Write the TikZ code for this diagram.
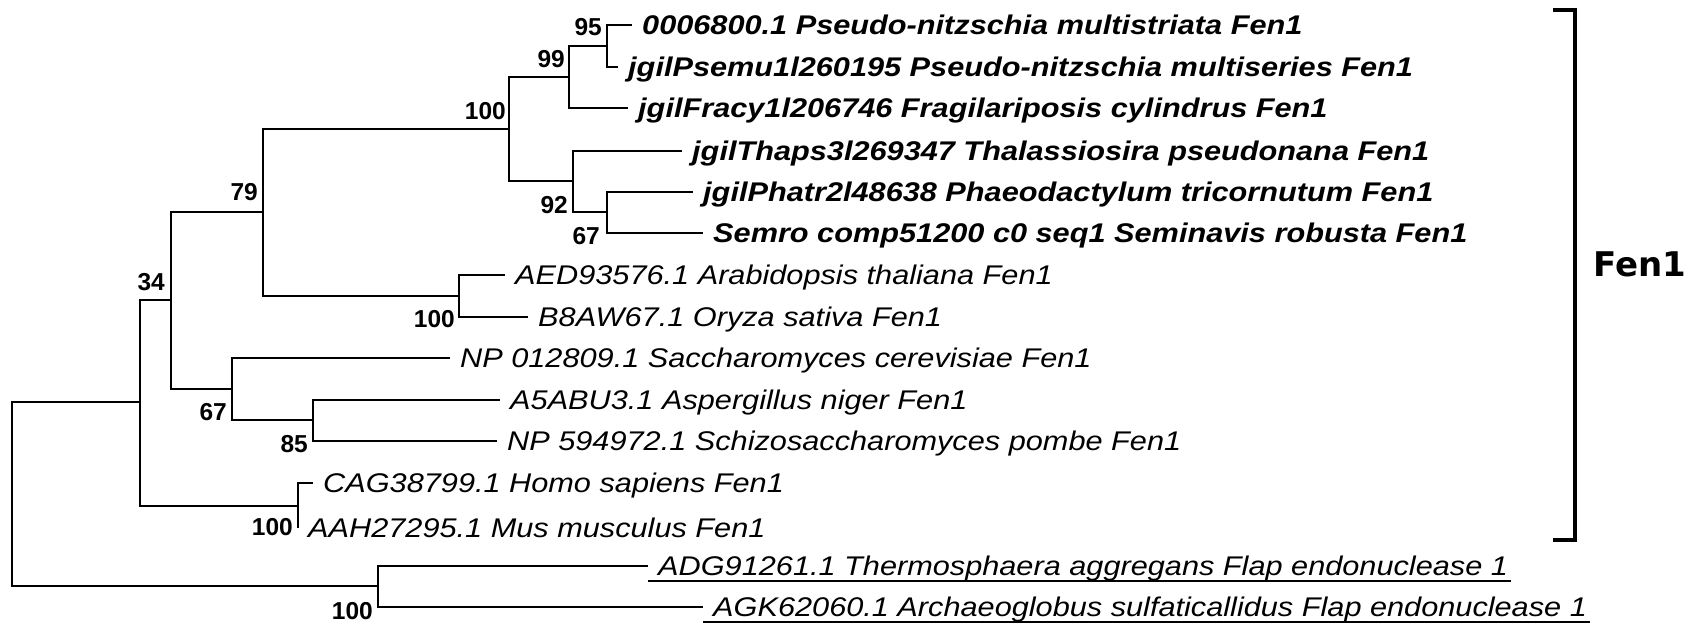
\documentclass[tikz,border=0pt]{standalone}
\usepackage{fontspec}
\setmainfont{Liberation Sans}
\newfontfamily\leaffont[FakeStretch=1.137]{Liberation Sans}
\newfontfamily\cladefont{DejaVu Sans}
\usepackage{tikz}
\usetikzlibrary{positioning}
\tikzstyle{leaf} = [anchor=west, inner xsep=10pt, inner ysep=0pt,
    text height=19.3pt, text depth=0pt, font=\leaffont\fontsize{27}{30}\selectfont\itshape]
\tikzstyle{branch} = [draw, line width=1.6pt]

\begin{document}
\begin{tikzpicture}[x=1pt, y=-1pt]
    % Style definitions
    \tikzstyle{dleaf} = [leaf, font=\leaffont\fontsize{27}{30}\selectfont\bfseries\itshape]
    \tikzstyle{boot} = [anchor=east, inner sep=0pt, text height=17.5pt, text depth=0pt,
        font=\fontsize{24.5}{26}\selectfont\bfseries]
    \tikzstyle{uline} = [draw, line width=1.5pt]
    \tikzstyle{bracket} = [draw, line width=4.5pt]
    \useasboundingbox (0,0) rectangle (1693,623);

    % Internal nodes
    \coordinate (root) at (12,494);
    \coordinate (nIn) at (140,402);
    \coordinate (n34) at (171,300);
    \coordinate (n79) at (263,212);
    \coordinate (nDia) at (509,129);
    \coordinate (n99) at (569,77);
    \coordinate (n95) at (607,46);
    \coordinate (n92) at (573,181);
    \coordinate (n67d) at (607,212);
    \coordinate (nPla) at (459,296);
    \coordinate (n67f) at (232,389);
    \coordinate (n85) at (313,420);
    \coordinate (nMam) at (298,506);
    \coordinate (nArc) at (378,586);

    % Diatom leaves
    \node [dleaf] (mstr) at (632,25) {0006800.1 Pseudo-nitzschia multistriata Fen1};
    \node [dleaf] (mser) at (618,67) {jgilPsemu1l260195 Pseudo-nitzschia multiseries Fen1};
    \node [dleaf] (fcyl) at (628,108) {jgilFracy1l206746 Fragilariposis cylindrus Fen1};
    \node [dleaf] (tpse) at (682,151) {jgilThaps3l269347 Thalassiosira pseudonana Fen1};
    \node [dleaf] (ptri) at (693,192) {jgilPhatr2l48638 Phaeodactylum tricornutum Fen1};
    \node [dleaf] (srob) at (703,233) {Semro comp51200 c0 seq1 Seminavis robusta Fen1};

    % Other eukaryote leaves
    \node [leaf] (atha) at (505,275) {AED93576.1 Arabidopsis thaliana Fen1};
    \node [leaf] (osat) at (528,317) {B8AW67.1 Oryza sativa Fen1};
    \node [leaf] (scer) at (450,358) {NP 012809.1 Saccharomyces cerevisiae Fen1};
    \node [leaf] (anig) at (500,400) {A5ABU3.1 Aspergillus niger Fen1};
    \node [leaf] (spom) at (497,441) {NP 594972.1 Schizosaccharomyces pombe Fen1};
    \node [leaf] (hsap) at (313,483) {CAG38799.1 Homo sapiens Fen1};
    \node [leaf] (mmus) at (298,528) {AAH27295.1 Mus musculus Fen1};

    % Archaeal outgroup
    \node [leaf] (tagg) at (648,566) {ADG91261.1 Thermosphaera aggregans Flap endonuclease 1};
    \node [leaf] (asul) at (703,607) {AGK62060.1 Archaeoglobus sulfaticallidus Flap endonuclease 1};
    \path [uline] ([yshift=-5pt]tagg.south west) -- ([xshift=-7pt,yshift=-5pt]tagg.south east);
    \path [uline] ([yshift=-5pt]asul.south west) -- ([xshift=-7pt,yshift=-5pt]asul.south east);

    % Branches
    \path [branch] (root) |- (nIn);
    \path [branch] (root) |- (nArc);
    \path [branch] (nIn) |- (n34);
    \path [branch] (nIn) |- (nMam);
    \path [branch] (n34) |- (n79);
    \path [branch] (n34) |- (n67f);
    \path [branch] (n79) |- (nDia);
    \path [branch] (n79) |- (nPla);
    \path [branch] (nDia) |- (n99);
    \path [branch] (nDia) |- (n92);
    \path [branch] (n99) |- (n95);
    \path [branch] (n99) |- (fcyl);
    \path [branch] (n95) |- (mstr);
    \path [branch] (n95) |- (mser);
    \path [branch] (n92) |- (tpse);
    \path [branch] (n92) |- (n67d);
    \path [branch] (n67d) |- (ptri);
    \path [branch] (n67d) |- (srob);
    \path [branch] (nPla) |- (atha);
    \path [branch] (nPla) |- (osat);
    \path [branch] (n67f) |- (scer);
    \path [branch] (n67f) |- (n85);
    \path [branch] (n85) |- (anig);
    \path [branch] (n85) |- (spom);
    \path [branch] (nMam) |- (hsap);
    \path [branch] (nMam) |- (mmus);
    \path [branch] (nArc) |- (tagg);
    \path [branch] (nArc) |- (asul);

    % Bootstrap values
    \node [boot] (b95) at (602,27) {95};
    \node [boot] (b99) at (565,59) {99};
    \node [boot] (b100d) at (506,111) {100};
    \node [boot] (b92) at (568,205) {92};
    \node [boot] (b67d) at (600,236) {67};
    \node [boot] (b79) at (258,192) {79};
    \node [boot] (b100p) at (455,319) {100};
    \node [boot] (b34) at (165,282) {34};
    \node [boot] (b67f) at (227,412) {67};
    \node [boot] (b85) at (308,444) {85};
    \node [boot] (b100m) at (293,527) {100};
    \node [boot] (b100a) at (373,611) {100};

    % Clade bracket
    \coordinate (brtop) at (1553,10);
    \coordinate (brbot) at (1553,540);
    \path [bracket] (brtop) -- ++(22,0) |- (brbot);
    \node [font=\cladefont\bfseries\fontsize{34}{36}\selectfont] (fen) at (1640,264) {Fen1};
\end{tikzpicture}
\end{document}
